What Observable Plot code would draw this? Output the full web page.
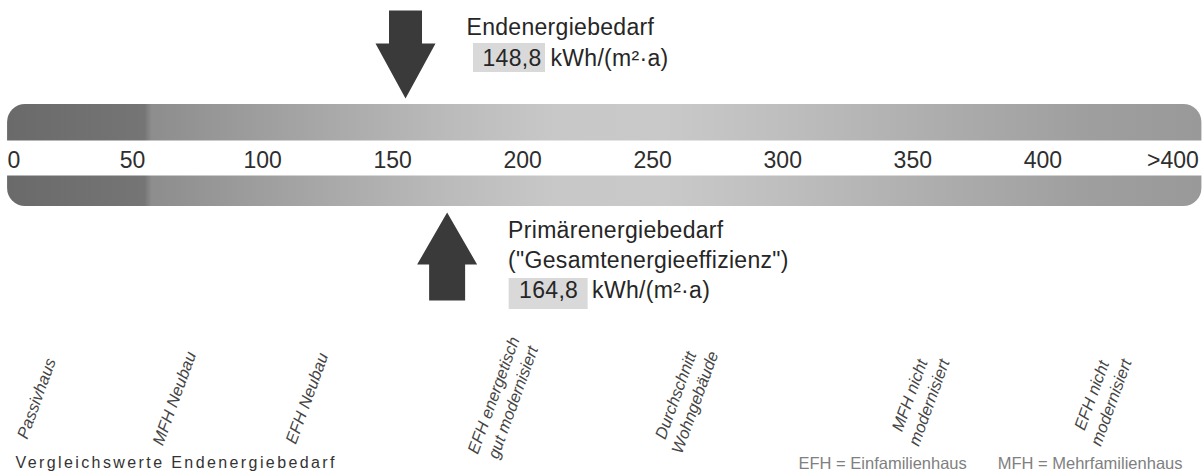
<!DOCTYPE html>
<html>
<head>
<meta charset="utf-8">
<script src="https://cdn.jsdelivr.net/npm/d3@7"></script>
<script src="https://cdn.jsdelivr.net/npm/@observablehq/plot@0.6"></script>
<style>
  html, body { margin: 0; padding: 0; background: #fff; }
  #chart { width: 1204px; height: 472px; overflow: hidden; }
</style>
</head>
<body>
<div id="chart"></div>
<script>
// ---------------- data ----------------
const tickValues = [0, 50, 100, 150, 200, 250, 300, 350, 400, 450];
const tickLabels = ["0", "50", "100", "150", "200", "250", "300", "350", "400", ">400"];
const scaleExtent = [-4.2, 455];

const measureNames = ["Endenergiebedarf", "Primärenergiebedarf"];
const measureNotes = ["", "(\"Gesamtenergieeffizienz\")"];
const measureValues = [148.8, 164.8];
const measureUnit = "kWh/(m²·a)";

const refLabels = [
  "Passivhaus",
  "MFH Neubau",
  "EFH Neubau",
  "EFH energetisch\ngut modernisiert",
  "Durchschnitt\nWohngebäude",
  "MFH nicht\nmodernisiert",
  "EFH nicht\nmodernisiert"
];
const refValues = [7, 60, 111, 186, 256, 346, 416];

const footLeft = "Vergleichswerte Endenergiebedarf";
const footRight = ["EFH = Einfamilienhaus", "MFH = Mehrfamilienhaus"];

// ---------------- styles ----------------
const bandStops = [
  [0, "#6a6a6a"], [0.115, "#757575"], [0.121, "#8d8d8d"], [0.25, "#a5a5a5"],
  [0.37, "#bbbbbb"], [0.46, "#c8c8c8"], [0.55, "#c9c9c9"], [0.65, "#bebebe"],
  [0.78, "#adadad"], [0.9, "#9f9f9f"], [1, "#999999"]
];
const font = "'Liberation Sans', Arial, Helvetica, sans-serif";
const H = 472;

// ---------------- build ----------------
const de = d3.formatLocale({decimal: ",", thousands: ".", grouping: [3], currency: ["", " €"]});
const fmt = de.format(".1f");
const ticks = tickValues.map((v, i) => ({v, label: tickLabels[i]}));
const measures = measureValues.map((v, i) => ({v, name: measureNames[i], note: measureNotes[i], text: fmt(v)}));
const refs = refValues.map((v, i) => ({v, label: refLabels[i]}));
const endM = [measures[0]];
const primM = [measures[1]];
const refSingle = refs.filter(d => !d.label.includes("\n"));
const refDouble = refs.filter(d => d.label.includes("\n"));

const arrowDown = {draw(ctx) {
  ctx.moveTo(-16.5, -44); ctx.lineTo(16.5, -44); ctx.lineTo(16.5, -11); ctx.lineTo(30, -11);
  ctx.lineTo(0, 44); ctx.lineTo(-30, -11); ctx.lineTo(-16.5, -11); ctx.closePath();
}};
const arrowUp = {draw(ctx) {
  ctx.moveTo(0, -44); ctx.lineTo(30, 8); ctx.lineTo(18, 8); ctx.lineTo(18, 44);
  ctx.lineTo(-18, 44); ctx.lineTo(-18, 8); ctx.lineTo(-30, 8); ctx.closePath();
}};

const annot = {frameAnchor: "top", textAnchor: "start", lineAnchor: "bottom", fontSize: 23, fill: "#262626"};

const plot = Plot.plot({
  width: 1204, height: H,
  marginLeft: 18, marginRight: 0, marginTop: 0, marginBottom: 0,
  x: {domain: [0, 456], axis: null},
  style: {fontFamily: font, background: "white", overflow: "visible"},
  marks: [
    // scale band
    Plot.rect([scaleExtent], {x1: d => d[0], x2: d => d[1], insetTop: 104, insetBottom: H - 206, rx: 18, fill: "url(#bandGrad)"}),
    Plot.rect([scaleExtent], {x1: d => d[0] - 5, x2: d => d[1] + 5, insetTop: 140.5, insetBottom: H - 175.5, fill: "white"}),
    // tick labels
    Plot.text(ticks.slice(0, 1), {x: "v", text: "label", frameAnchor: "top", dy: 167, dx: -11, textAnchor: "start", lineAnchor: "bottom", fontSize: 23, fill: "#2e2e2e"}),
    Plot.text(ticks.slice(1), {x: "v", text: "label", frameAnchor: "top", dy: 167, dx: -16, textAnchor: "middle", lineAnchor: "bottom", fontSize: 23, fill: "#2e2e2e"}),
    // arrows
    Plot.dot(endM, {x: "v", frameAnchor: "top", dy: 54, symbol: arrowDown, r: 10, fill: "#3a3a3a"}),
    Plot.dot(primM, {x: "v", frameAnchor: "top", dy: 256, symbol: arrowUp, r: 10, fill: "#3a3a3a"}),
    // value boxes
    Plot.rect(endM, {x1: "v", x2: "v", insetLeft: 68, insetRight: -140, insetTop: 43, insetBottom: H - 72, fill: "#d9d9d9"}),
    Plot.rect(primM, {x1: "v", x2: "v", insetLeft: 62, insetRight: -141, insetTop: 278, insetBottom: H - 309, fill: "#d9d9d9"}),
    // Endenergie annotation
    Plot.text(endM, {...annot, x: "v", text: "name", dx: 61, dy: 34}),
    Plot.text(endM, {...annot, x: "v", text: "text", dx: 77, dy: 65}),
    Plot.text(endM, {...annot, x: "v", text: () => measureUnit, dx: 145, dy: 65}),
    // Primärenergie annotation
    Plot.text(primM, {...annot, x: "v", text: "name", dx: 61, dy: 237}),
    Plot.text(primM, {...annot, x: "v", text: "note", dx: 61, dy: 267}),
    Plot.text(primM, {...annot, x: "v", text: "text", dx: 72, dy: 297}),
    Plot.text(primM, {...annot, x: "v", text: () => measureUnit, dx: 145, dy: 297}),
    // comparison labels
    Plot.text(refSingle, {x: "v", text: "label", frameAnchor: "top", dy: 398, rotate: -70, textAnchor: "middle", lineAnchor: "middle", fontSize: 16.5, fontStyle: "italic", fill: "#454545"}),
    Plot.text(refDouble, {x: "v", text: "label", frameAnchor: "top", dy: 398, rotate: -70, textAnchor: "middle", lineAnchor: "middle", lineHeight: 1.25, fontSize: 16.5, fontStyle: "italic", fill: "#454545"}),
    // footers
    Plot.text([footLeft], {text: d => d, frameAnchor: "top-left", dx: -3, dy: 467, textAnchor: "start", lineAnchor: "bottom", fontSize: 16, fill: "#333"}),
    Plot.text([footRight[0]], {text: d => d, frameAnchor: "top-left", dx: 780, dy: 468, textAnchor: "start", lineAnchor: "bottom", fontSize: 16.5, fill: "#808080"}),
    Plot.text([footRight[1]], {text: d => d, frameAnchor: "top-right", dx: -22, dy: 468, textAnchor: "end", lineAnchor: "bottom", fontSize: 16.5, fill: "#808080"})
  ]
});

// gradient definition for the band
const ns = "http://www.w3.org/2000/svg";
const defs = document.createElementNS(ns, "defs");
const grad = document.createElementNS(ns, "linearGradient");
grad.setAttribute("id", "bandGrad");
bandStops.forEach(([o, c]) => {
  const s = document.createElementNS(ns, "stop");
  s.setAttribute("offset", o);
  s.setAttribute("stop-color", c);
  grad.appendChild(s);
});
defs.appendChild(grad);
plot.insertBefore(defs, plot.firstChild);

// letter spacing tweaks
const annotTexts = new Set([...measureNames, ...measureNotes, ...measures.map(d => d.text), measureUnit]);
plot.querySelectorAll("text").forEach(t => {
  const s = t.textContent;
  if (s === footLeft) t.setAttribute("letter-spacing", "2.4");
  else if (annotTexts.has(s)) t.setAttribute("letter-spacing", "0.3");
});

document.getElementById("chart").appendChild(plot);
</script>
</body>
</html>
